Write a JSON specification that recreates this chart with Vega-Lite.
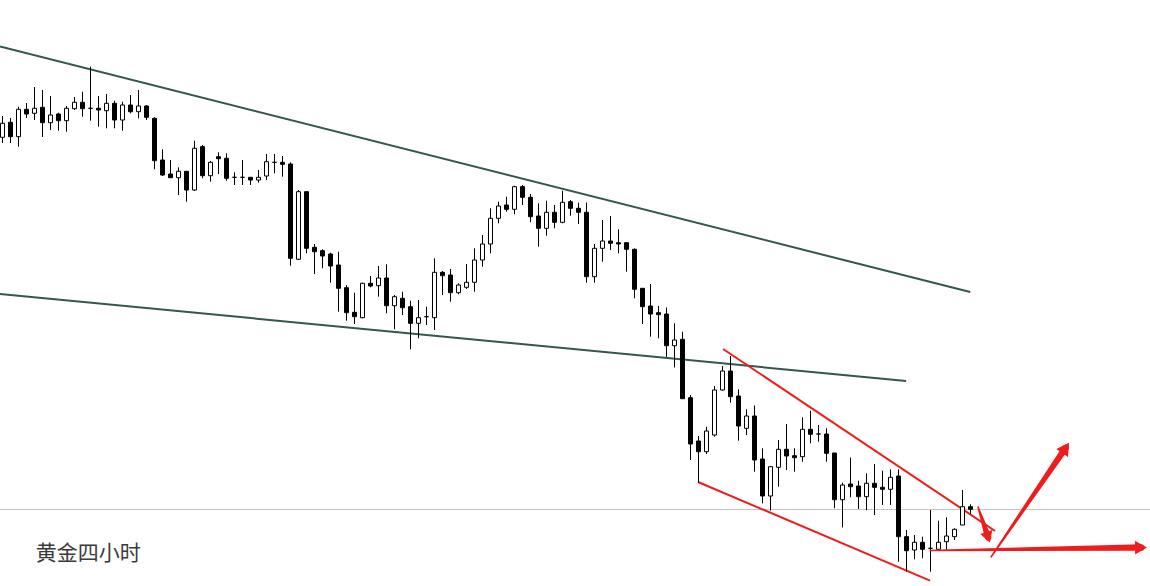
{
  "$schema": "https://vega.github.io/schema/vega-lite/v6.json",
  "autosize": {"type": "none"},
  "width": 1150,
  "height": 586,
  "padding": 0,
  "background": "white",
  "config": {"view": {"stroke": null}, "scale": {"continuousPadding": 0}},
  "datasets": {
    "candles": [
      {"t":0,"o":448.7,"h":470,"l":443,"c":462.7},
      {"t":1,"o":463.7,"h":468,"l":443,"c":449.3},
      {"t":2,"o":449.3,"h":479.3,"l":439.3,"c":476.7},
      {"t":3,"o":476.7,"h":483,"l":468,"c":472},
      {"t":4,"o":472.7,"h":499,"l":466,"c":477.7},
      {"t":5,"o":478.7,"h":496,"l":449,"c":463.3},
      {"t":6,"o":463.3,"h":490,"l":456,"c":471},
      {"t":7,"o":472,"h":473.3,"l":455.3,"c":465.3},
      {"t":8,"o":465.3,"h":480,"l":454.3,"c":477.7},
      {"t":9,"o":477.3,"h":489,"l":476,"c":483.7},
      {"t":10,"o":483.7,"h":494.3,"l":469.3,"c":477.3},
      {"t":11,"o":477.7,"h":519.3,"l":465.3,"c":477.7},
      {"t":12,"o":477.7,"h":490,"l":459.3,"c":476},
      {"t":13,"o":475.3,"h":492,"l":457.7,"c":482.7},
      {"t":14,"o":482.7,"h":485.3,"l":457.7,"c":466},
      {"t":15,"o":466,"h":484.3,"l":455.3,"c":481},
      {"t":16,"o":481,"h":491,"l":472.7,"c":474.3},
      {"t":17,"o":474.3,"h":496,"l":467.7,"c":480},
      {"t":18,"o":480,"h":481,"l":466,"c":468.7},
      {"t":19,"o":467.7,"h":468.7,"l":416.7,"c":425.3},
      {"t":20,"o":426,"h":436.7,"l":410,"c":411},
      {"t":21,"o":412,"h":426,"l":408.3,"c":408.3},
      {"t":22,"o":408.3,"h":418.7,"l":391,"c":414.7},
      {"t":23,"o":414.7,"h":414.7,"l":384.3,"c":396},
      {"t":24,"o":396,"h":445.3,"l":395,"c":437.7},
      {"t":25,"o":439.3,"h":441,"l":407.7,"c":410.3},
      {"t":26,"o":410.3,"h":425,"l":404.3,"c":423.7},
      {"t":27,"o":429.3,"h":433.7,"l":412,"c":427.3},
      {"t":28,"o":427.7,"h":432.7,"l":405.3,"c":407.7},
      {"t":29,"o":408.7,"h":413.7,"l":401,"c":408.7},
      {"t":30,"o":408.7,"h":426,"l":401,"c":408.7},
      {"t":31,"o":408.7,"h":408.7,"l":401,"c":406},
      {"t":32,"o":406,"h":416,"l":403.3,"c":408.7},
      {"t":33,"o":410,"h":432,"l":406,"c":424.3},
      {"t":34,"o":423.7,"h":432,"l":412.7,"c":423.7},
      {"t":35,"o":423.7,"h":430,"l":409.3,"c":421.7},
      {"t":36,"o":422,"h":423.7,"l":320.3,"c":327.7},
      {"t":37,"o":326.7,"h":396,"l":326,"c":394.3},
      {"t":38,"o":394.3,"h":394.3,"l":332.7,"c":337.7},
      {"t":39,"o":338.7,"h":342,"l":312,"c":334.3},
      {"t":40,"o":335.3,"h":336.7,"l":317.7,"c":330},
      {"t":41,"o":332,"h":333.3,"l":303.3,"c":320},
      {"t":42,"o":321,"h":334.3,"l":274.3,"c":297.7},
      {"t":43,"o":298.3,"h":301,"l":265.3,"c":273.3},
      {"t":44,"o":273.7,"h":293.3,"l":262,"c":269.3},
      {"t":45,"o":268.3,"h":303.3,"l":267.7,"c":302.7},
      {"t":46,"o":302.7,"h":310,"l":298.7,"c":300},
      {"t":47,"o":300.3,"h":320,"l":289.3,"c":308},
      {"t":48,"o":308,"h":321.7,"l":272.7,"c":280.3},
      {"t":49,"o":280.3,"h":291,"l":256.7,"c":289.3},
      {"t":50,"o":287.7,"h":294.3,"l":271,"c":278.3},
      {"t":51,"o":279.3,"h":285.3,"l":236.7,"c":262.7},
      {"t":52,"o":262.7,"h":286,"l":247.7,"c":268.3},
      {"t":53,"o":269.3,"h":279.3,"l":261,"c":269.3},
      {"t":54,"o":268.3,"h":327.7,"l":256,"c":313.7},
      {"t":55,"o":313.7,"h":315,"l":291,"c":310.3},
      {"t":56,"o":311,"h":317,"l":284.3,"c":293.3},
      {"t":57,"o":293.3,"h":302.7,"l":291.7,"c":301},
      {"t":58,"o":298.7,"h":322,"l":297,"c":303.7},
      {"t":59,"o":303.7,"h":337.7,"l":294.3,"c":326},
      {"t":60,"o":326,"h":351,"l":319.3,"c":342},
      {"t":61,"o":342,"h":377.7,"l":332.7,"c":367.7},
      {"t":62,"o":367.7,"h":384.3,"l":362.7,"c":380},
      {"t":63,"o":381,"h":389.3,"l":374.3,"c":376.7},
      {"t":64,"o":376.7,"h":400.3,"l":371.7,"c":399.3},
      {"t":65,"o":399.3,"h":401,"l":381,"c":388.7},
      {"t":66,"o":388.7,"h":392,"l":363.7,"c":369.3},
      {"t":67,"o":370,"h":382.7,"l":339.3,"c":357.7},
      {"t":68,"o":357.7,"h":385.3,"l":350.3,"c":373.7},
      {"t":69,"o":373.7,"h":381,"l":357.7,"c":363.7},
      {"t":70,"o":363.7,"h":395.3,"l":362.7,"c":383.7},
      {"t":71,"o":384.3,"h":386,"l":370.3,"c":377.7},
      {"t":72,"o":377.7,"h":383.3,"l":362,"c":373.7},
      {"t":73,"o":373.7,"h":383.5,"l":303.3,"c":309.3},
      {"t":74,"o":309.3,"h":342,"l":303.3,"c":337.7},
      {"t":75,"o":337.7,"h":366,"l":324.3,"c":345},
      {"t":76,"o":345,"h":370,"l":336,"c":342.7},
      {"t":77,"o":343.3,"h":356.7,"l":332.7,"c":342},
      {"t":78,"o":343.3,"h":343.3,"l":314.3,"c":336.7},
      {"t":79,"o":336.7,"h":337.7,"l":287.7,"c":296.7},
      {"t":80,"o":297.7,"h":297.7,"l":262,"c":279.3},
      {"t":81,"o":280,"h":302,"l":249.3,"c":272},
      {"t":82,"o":273.3,"h":280,"l":247.7,"c":271.3},
      {"t":83,"o":272,"h":278.5,"l":229,"c":240.3},
      {"t":84,"o":240.3,"h":262.7,"l":218.5,"c":246},
      {"t":85,"o":246.7,"h":254.3,"l":187.3,"c":187.3},
      {"t":86,"o":188.3,"h":191,"l":126,"c":142},
      {"t":87,"o":145,"h":150,"l":103.3,"c":134.3},
      {"t":88,"o":134.3,"h":159.3,"l":132,"c":155},
      {"t":89,"o":151,"h":200,"l":149.3,"c":196},
      {"t":90,"o":196,"h":220,"l":195.3,"c":215},
      {"t":91,"o":215,"h":230,"l":183.3,"c":189.3},
      {"t":92,"o":190,"h":196.7,"l":145.3,"c":160},
      {"t":93,"o":157.7,"h":176.7,"l":151,"c":170},
      {"t":94,"o":170,"h":180.5,"l":114.3,"c":126},
      {"t":95,"o":127,"h":137.7,"l":82.7,"c":90},
      {"t":96,"o":90,"h":120,"l":75.3,"c":119.3},
      {"t":97,"o":118.7,"h":146,"l":99.3,"c":136.7},
      {"t":98,"o":136.7,"h":162,"l":116,"c":130},
      {"t":99,"o":130.3,"h":137.7,"l":114.3,"c":128.3},
      {"t":100,"o":129.3,"h":168.7,"l":124.3,"c":156.7},
      {"t":101,"o":156.7,"h":175.3,"l":142.7,"c":151.7},
      {"t":102,"o":152,"h":161,"l":144.3,"c":152},
      {"t":103,"o":152,"h":157.7,"l":124.3,"c":132.7},
      {"t":104,"o":133,"h":133,"l":77.7,"c":86.3},
      {"t":105,"o":86.3,"h":103.3,"l":58.5,"c":101},
      {"t":106,"o":102,"h":128.5,"l":88.7,"c":99.3},
      {"t":107,"o":100,"h":105.3,"l":77,"c":89.3},
      {"t":108,"o":89.3,"h":112.7,"l":76,"c":102.7},
      {"t":109,"o":102.7,"h":122,"l":71,"c":98.7},
      {"t":110,"o":98.7,"h":115.3,"l":81,"c":96.7},
      {"t":111,"o":96.7,"h":116.7,"l":81,"c":108.7},
      {"t":112,"o":110,"h":116.7,"l":24.3,"c":49.3},
      {"t":113,"o":49.3,"h":56,"l":14.3,"c":35.3},
      {"t":114,"o":36,"h":51,"l":26.7,"c":43.7},
      {"t":115,"o":43.7,"h":49.3,"l":27.7,"c":36.7},
      {"t":116,"o":37.7,"h":76,"l":14.3,"c":37.7},
      {"t":117,"o":36.7,"h":65.3,"l":36,"c":43.7},
      {"t":118,"o":44.3,"h":68.7,"l":36,"c":50},
      {"t":119,"o":49.3,"h":57.7,"l":46,"c":56.7},
      {"t":120,"o":61,"h":96,"l":61,"c":79.3},
      {"t":121,"o":79.3,"h":81.7,"l":72,"c":76.7}
    ],
    "lines": [
      {"id":"upper trend","group":"trend","t":-0.3125,"p":539.5},
      {"id":"upper trend","group":"trend","t":120.96,"p":294},
      {"id":"lower trend","group":"trend","t":-0.3125,"p":292},
      {"id":"lower trend","group":"trend","t":112.96,"p":205},
      {"id":"channel top","group":"channel","t":90.07,"p":237},
      {"id":"channel top","group":"channel","t":124.07,"p":55},
      {"id":"channel bottom","group":"channel","t":86.94,"p":104},
      {"id":"channel bottom","group":"channel","t":115.94,"p":5.4}
    ],
    "arrows": [
      {"id":"flat","k":0,"t":115.94,"p":35.5},
      {"id":"flat","k":1,"t":142.31,"p":38.4},
      {"id":"up","k":0,"t":123.57,"p":29},
      {"id":"up","k":1,"t":132.89,"p":138.1},
      {"id":"down","k":0,"t":121.94,"p":79},
      {"id":"down","k":1,"t":123.2,"p":48.7}
    ]
  },
  "layer": [
    {
      "data": {"values": [{}]},
      "mark": {"type": "rule", "color": "#c4c4c4", "strokeWidth": 1},
      "encoding": {"y": {"datum": 76.5, "type": "quantitative", "scale": {"domain": [0, 586], "nice": false, "zero": false, "padding": 0}, "axis": null}}
    },
    {
      "data": {"name": "lines"},
      "mark": {"type": "line", "strokeWidth": 2},
      "encoding": {
        "x": {"field": "t", "type": "quantitative", "scale": {"domain": [-0.3125, 143.4375], "nice": false, "zero": false, "padding": 0}, "axis": null},
        "y": {"field": "p", "type": "quantitative", "scale": {"domain": [0, 586], "nice": false, "zero": false, "padding": 0}, "axis": null},
        "detail": {"field": "id"},
        "color": {"field": "group", "type": "nominal", "scale": {"domain": ["trend", "channel"], "range": ["#34564d", "#ee1d1d"]}, "legend": null}
      }
    },
    {
      "data": {"name": "candles"},
      "mark": {"type": "rule", "color": "black", "strokeWidth": 1},
      "encoding": {
        "x": {"field": "t", "type": "quantitative", "scale": {"domain": [-0.3125, 143.4375], "nice": false, "zero": false, "padding": 0}, "axis": null},
        "y": {"field": "l", "type": "quantitative", "scale": {"domain": [0, 586], "nice": false, "zero": false, "padding": 0}, "axis": null},
        "y2": {"field": "h"}
      }
    },
    {
      "data": {"name": "candles"},
      "mark": {"type": "bar", "orient": "vertical", "size": 4, "stroke": "black", "strokeWidth": 1},
      "encoding": {
        "x": {"field": "t", "type": "quantitative", "scale": {"domain": [-0.3125, 143.4375], "nice": false, "zero": false, "padding": 0}, "axis": null},
        "y": {"field": "o", "type": "quantitative", "scale": {"domain": [0, 586], "nice": false, "zero": false, "padding": 0}, "axis": null},
        "y2": {"field": "c"},
        "fill": {"condition": {"test": "datum.c > datum.o", "value": "white"}, "value": "black"}
      }
    },
    {
      "data": {"name": "arrows"},
      "mark": {"type": "trail", "color": "#ee1d1d"},
      "encoding": {
        "x": {"field": "t", "type": "quantitative", "scale": {"domain": [-0.3125, 143.4375], "nice": false, "zero": false, "padding": 0}, "axis": null},
        "y": {"field": "p", "type": "quantitative", "scale": {"domain": [0, 586], "nice": false, "zero": false, "padding": 0}, "axis": null},
        "detail": {"field": "id"},
        "order": {"field": "k"},
        "size": {"field": "k", "type": "quantitative", "scale": {"domain": [0, 1], "range": [1.5, 6.5]}, "legend": null}
      }
    },
    {
      "data": {"name": "arrows"},
      "transform": [{"filter": "datum.id == 'flat' && datum.k == 1"}],
      "mark": {"type": "point", "shape": "triangle-up", "filled": true, "color": "#ee1d1d", "size": 190, "angle": 89, "opacity": 1},
      "encoding": {
        "x": {"field": "t", "type": "quantitative", "scale": {"domain": [-0.3125, 143.4375], "nice": false, "zero": false, "padding": 0}, "axis": null},
        "y": {"field": "p", "type": "quantitative", "scale": {"domain": [0, 586], "nice": false, "zero": false, "padding": 0}, "axis": null}
      }
    },
    {
      "data": {"name": "arrows"},
      "transform": [{"filter": "datum.id == 'up' && datum.k == 1"}],
      "mark": {"type": "point", "shape": "triangle-up", "filled": true, "color": "#ee1d1d", "size": 200, "angle": 34.6, "opacity": 1},
      "encoding": {
        "x": {"field": "t", "type": "quantitative", "scale": {"domain": [-0.3125, 143.4375], "nice": false, "zero": false, "padding": 0}, "axis": null},
        "y": {"field": "p", "type": "quantitative", "scale": {"domain": [0, 586], "nice": false, "zero": false, "padding": 0}, "axis": null}
      }
    },
    {
      "data": {"name": "arrows"},
      "transform": [{"filter": "datum.id == 'down' && datum.k == 1"}],
      "mark": {"type": "point", "shape": "triangle-up", "filled": true, "color": "#ee1d1d", "size": 160, "angle": 161.6, "opacity": 1},
      "encoding": {
        "x": {"field": "t", "type": "quantitative", "scale": {"domain": [-0.3125, 143.4375], "nice": false, "zero": false, "padding": 0}, "axis": null},
        "y": {"field": "p", "type": "quantitative", "scale": {"domain": [0, 586], "nice": false, "zero": false, "padding": 0}, "axis": null}
      }
    },
    {
      "data": {"values": [{"label": "黄金四小时", "t": 4.15, "p": 32.5}]},
      "mark": {"type": "text", "align": "left", "baseline": "middle", "font": "Noto Sans CJK SC", "fontSize": 21, "color": "#3a3a3a"},
      "encoding": {
        "x": {"field": "t", "type": "quantitative", "scale": {"domain": [-0.3125, 143.4375], "nice": false, "zero": false, "padding": 0}, "axis": null},
        "y": {"field": "p", "type": "quantitative", "scale": {"domain": [0, 586], "nice": false, "zero": false, "padding": 0}, "axis": null},
        "text": {"field": "label"}
      }
    }
  ]
}
